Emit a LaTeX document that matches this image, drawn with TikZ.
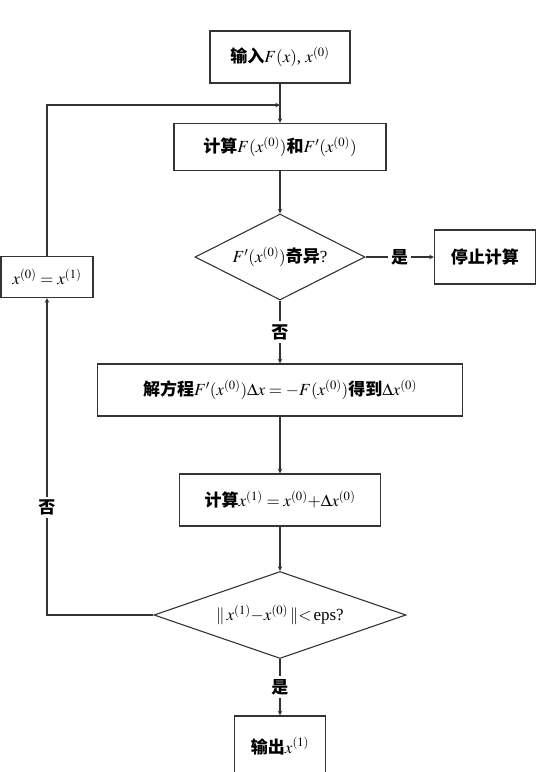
\documentclass[tikz,border=0pt]{standalone}
\usepackage{mathptmx}
\usepackage{fontspec}
\setmainfont{Liberation Serif}
\newfontfamily\cjk{Noto Sans CJK SC}
\newcommand{\zh}[1]{{\cjk\bfseries #1}}
\usepackage{tikz}
\usetikzlibrary{shapes.geometric, arrows}
\tikzstyle{process} = [rectangle, 
minimum height=52pt, 
text centered, 
draw=black!80, 
line width=1.1pt, 
font=\fontsize{17}{20}\selectfont]
\tikzstyle{decision} = [diamond, 
inner sep=0pt, 
text centered, 
draw=black!80, 
line width=1.1pt, 
font=\fontsize{17}{20}\selectfont]
\tikzstyle{arrow} = [line width=1.1pt,draw=black!80,->,>=stealth]
\tikzstyle{answer} = [fill=white, inner sep=3pt, 
font=\fontsize{17}{20}\selectfont]

\begin{document}
\begin{tikzpicture}[x=1pt, y=1pt, node distance=110pt]
\useasboundingbox (-280,57) rectangle (269,-715);

\node (in1) [process, minimum width=140pt] {\zh{输入}$F(x)$, $x^{(0)}$};
\node (calc_f) [process, below of=in1, yshift=20pt, minimum width=212pt, minimum height=47pt] {\zh{计算}$F(x^{(0)})$\zh{和}$F'(x^{(0)})$};
\node (singular) [decision, below of=calc_f, minimum width=170pt, minimum height=86pt, aspect=2] {$F'(x^{(0)})$\zh{奇异}?};
\node (stop) [process, right of=singular, xshift=95pt, minimum width=101pt, minimum height=54pt] {\zh{停止计算}};
\node (update) [process, left of=singular, xshift=-123pt, yshift=-20pt, minimum width=92pt, minimum height=41pt] {$x^{(0)}=x^{(1)}$};
\node (solve) [process, below of=singular, yshift=-23pt, minimum width=365pt] {\zh{解方程}$F'(x^{(0)})\Delta x=-F(x^{(0)})$\zh{得到}$\Delta x^{(0)}$};
\node (calc_x) [process, below of=solve, minimum width=201pt] {\zh{计算}$x^{(1)}=x^{(0)}{+}\Delta x^{(0)}$};
\node (converged) [decision, below of=calc_x, yshift=-5pt, minimum width=252pt, minimum height=87pt, aspect=2.9] {$\|\,x^{(1)}{-}x^{(0)}\,\|{<}\,$eps?};
\node (out) [process, below of=converged, yshift=-21pt, minimum width=91pt, minimum height=60pt] {\zh{输出}$x^{(1)}$};
\coordinate (merge) at (0,-48);

\draw [arrow] (in1) -- (calc_f);
\draw [arrow] (update.north) |- (merge);
\draw [arrow] (calc_f) -- (singular);
\draw [arrow] (singular.east) -- node[answer] {\zh{是}} (singular.east -| stop.west);
\draw [arrow] (singular) -- node[answer] {\zh{否}} (solve);
\draw [arrow] (solve) -- (calc_x);
\draw [arrow] (calc_x) -- (converged);
\draw [arrow] (converged) -- node[answer] {\zh{是}} (out);
\draw [arrow] (converged.west) -| node[answer, pos=0.67] {\zh{否}} (update.south);

\end{tikzpicture}
\end{document}
